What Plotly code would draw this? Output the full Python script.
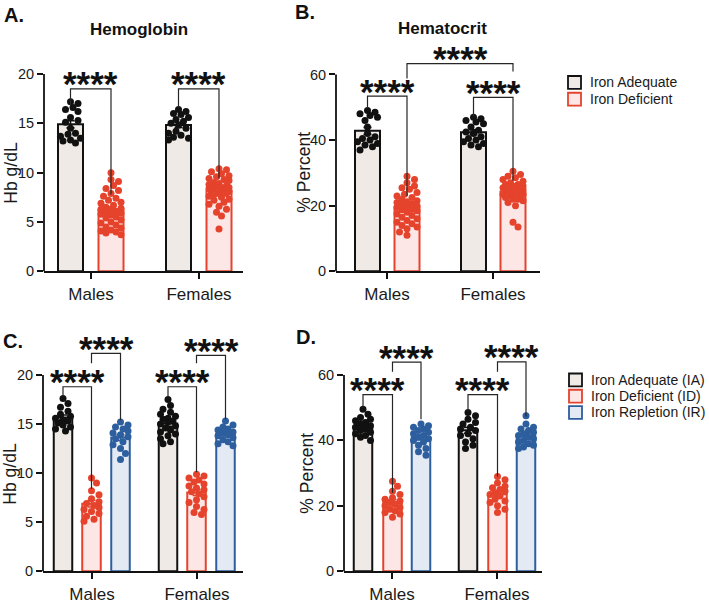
import numpy as np
import plotly.graph_objects as go

W, H = 709, 604

# ---------------- data ----------------
sexes = ["Males", "Females"]
groups_top = ["Iron Adequate", "Iron Deficient"]
groups_bot = ["Iron Adequate (IA)", "Iron Deficient (ID)", "Iron Repletion (IR)"]

# Panel A: Hemoglobin (g/dL)
hb1_ia_m = [17.2, 17.0, 16.6, 16.4, 16.2, 15.6, 15.3, 15.1, 14.5, 14.0, 13.9, 13.7, 13.5, 13.3, 13.2, 13.0]
hb1_id_m = [10.0, 9.3, 9.1, 8.7, 8.4, 8.2, 7.9, 7.6, 7.4, 7.2, 7.0, 6.9, 6.7, 6.5, 6.4, 6.2, 6.1, 6.0,
            5.8, 5.7, 5.5, 5.4, 5.2, 5.0, 4.9, 4.7, 4.5, 4.4, 4.2, 4.1, 4.0, 3.9, 3.7, 5.9, 6.3]
hb1_ia_f = [16.4, 16.2, 16.0, 15.9, 15.6, 15.4, 15.2, 15.0, 14.8, 14.5, 14.2, 14.0, 13.8, 13.6, 13.5, 13.3]
hb1_id_f = [10.4, 10.3, 10.1, 9.9, 9.7, 9.6, 9.4, 9.3, 9.2, 9.0, 8.9, 8.8, 8.7, 8.6, 8.5, 8.4, 8.3, 8.2,
            8.1, 8.0, 7.9, 7.8, 7.6, 7.5, 7.3, 7.2, 7.0, 6.8, 6.6, 6.3, 7.9, 5.6, 8.5, 6.0, 4.3]

# Panel B: Hematocrit (%)
hct1_ia_m = [49, 48.5, 48, 47.5, 47, 46, 44, 42, 41, 40.5, 40, 39.5, 39, 38.5, 38, 37]
hct1_id_m = [29, 28, 27, 26, 25.5, 25, 24, 23.5, 23, 22.5, 22, 21.5, 21, 20.5, 20, 19.5, 19, 18.5,
             18, 17.5, 17, 16.5, 16, 15.5, 15, 14.5, 14, 13.5, 13, 12, 11, 20.2, 19.8, 21.2, 18.8]
hct1_ia_f = [47, 46.5, 46, 45.5, 45, 44, 43, 42.5, 42, 41, 40.5, 40, 39.5, 39, 38.5, 38]
hct1_id_f = [30.5, 29.5, 29, 28.5, 28, 27.5, 27, 26.5, 26.5, 26, 26, 25.5, 25.5, 25, 25, 24.5, 24.5, 24,
             24, 23.5, 23, 23, 22.5, 22, 21.5, 24, 23.5, 23, 22, 21, 20, 15, 13.5, 25.8, 24.8]

# Panel C: Hemoglobin (g/dL) with repletion
hb2_ia_m = [17.6, 17.1, 16.7, 16.3, 16.0, 15.8, 15.6, 15.4, 15.3, 15.1, 14.9, 14.7, 14.5, 14.3]
hb2_id_m = [9.5, 9.0, 8.2, 7.8, 7.4, 7.1, 6.9, 6.7, 6.5, 6.3, 6.1, 5.9, 5.6, 5.3, 5.1]
hb2_ir_m = [15.2, 14.9, 14.7, 14.5, 14.3, 14.1, 13.9, 13.7, 13.5, 13.2, 12.9, 12.5, 12.0, 11.4]
hb2_ia_f = [17.5, 16.9, 16.5, 16.2, 16.0, 15.8, 15.6, 15.5, 15.3, 15.2, 15.0, 14.8, 14.6, 14.4,
            14.2, 14.0, 13.8, 13.5, 13.2, 13.0]
hb2_id_f = [9.9, 9.7, 9.5, 9.3, 9.1, 8.9, 8.7, 8.5, 8.3, 8.1, 7.9, 7.6, 7.3, 7.0, 6.6, 6.3, 6.0, 5.8]
hb2_ir_f = [15.3, 14.9, 14.7, 14.5, 14.4, 14.2, 14.1, 13.9, 13.8, 13.6, 13.4, 13.2, 13.0, 12.8]

# Panel D: Hematocrit (%) with repletion
hct2_ia_m = [49.5, 48, 47, 46.5, 46, 45.5, 45, 44.5, 44, 43.5, 43, 42.5, 42, 41.5, 41, 40]
hct2_id_m = [27.5, 26, 24.5, 23.5, 22.5, 22, 21.5, 21, 20.5, 20, 19.5, 19, 18.5, 18, 17.5, 16.5]
hct2_ir_m = [45, 44.5, 44, 43.5, 43, 42.5, 42, 41.5, 41, 40.5, 40, 39.5, 38.5, 37.5, 36.5, 35.5]
hct2_ia_f = [48.5, 47.5, 46.5, 45.5, 45, 44, 43.5, 43, 42, 41.5, 40.5, 39.5, 38.5, 37.5]
hct2_id_f = [29, 28, 27, 26, 25.5, 25, 24.5, 24, 23.5, 23, 22, 21.5, 21, 20, 19, 18]
hct2_ir_f = [47.5, 45, 44, 43.5, 43, 42.5, 42, 41.5, 41, 40.5, 40, 39.5, 39, 38.5, 38, 37.5]

y_ticks_hb = [0, 5, 10, 15, 20]
y_ticks_hct = [0, 20, 40, 60]
sig_label = "****"

# ---------------- styles ----------------
FONT = "Arial, 'Liberation Sans', Helvetica, sans-serif"
TXT = "#1a1a1a"
fills = ["#EFEAE5", "#FDE6E6", "#E3EAF4"]
lines = ["#111111", "#E5432C", "#2D5E9D"]

panels = [
    dict(letter="A.", title="Hemoglobin", ytitle="Hb g/dL", groups=groups_top,
         data=[[hb1_ia_m, hb1_ia_f], [hb1_id_m, hb1_id_f]], yticks=y_ticks_hb,
         left=44, right=243, bottom=275, ppu=10.0, ymax=25, male=91, female=199,
         offs=[-20.5, 20], bw=25,
         letter_xy=(2, 15), title_xy=(139, 30), ytitle_xy=(11, 175),
         brackets=[((0, 0), (0, 1), 18.5, 16.8, 7.8), ((1, 0), (1, 1), 18.5, 16.6, 9.4)]),
    dict(letter="B.", title="Hematocrit", ytitle="% Percent", groups=groups_top,
         data=[[hct1_ia_m, hct1_ia_f], [hct1_id_m, hct1_id_f]], yticks=y_ticks_hct,
         left=336, right=540, bottom=275, ppu=3.325, ymax=72, male=387, female=493,
         offs=[-19.5, 20], bw=25,
         letter_xy=(293, 12), title_xy=(442, 29), ytitle_xy=(304, 175),
         brackets=[((0, 0), (0, 1), 53.4, 49.7, 23.0), ((1, 0), (1, 1), 53.0, 47.3, 27.7),
                   ((0, 1), (1, 1), 63.3, 58.8, 60.9)]),
    dict(letter="C.", title=None, ytitle="Hb g/dL", groups=groups_bot,
         data=[[hb2_ia_m, hb2_ia_f], [hb2_id_m, hb2_id_f], [hb2_ir_m, hb2_ir_f]], yticks=y_ticks_hb,
         left=43, right=243, bottom=579, ppu=9.95, ymax=25.5, male=92, female=197,
         offs=[-29, -0.5, 28.5], bw=18.5,
         letter_xy=(1, 346), title_xy=None, ytitle_xy=(10, 480),
         brackets=[((0, 0), (0, 1), 18.8, 17.8, 8.4), ((0, 1), (0, 2), 22.2, 21.2, 15.4),
                   ((1, 0), (1, 1), 18.8, 17.8, 10.1), ((1, 1), (1, 2), 22.0, 21.2, 15.5)]),
    dict(letter="D.", title=None, ytitle="% Percent", groups=groups_bot,
         data=[[hct2_ia_m, hct2_ia_f], [hct2_id_m, hct2_id_f], [hct2_ir_m, hct2_ir_f]], yticks=y_ticks_hct,
         left=344, right=542, bottom=579, ppu=3.317, ymax=72, male=392, female=497,
         offs=[-29, 0.5, 29], bw=18.5,
         letter_xy=(294, 342), title_xy=None, ytitle_xy=(307, 480),
         brackets=[((0, 0), (0, 1), 54.0, 50.0, 24.0), ((0, 1), (0, 2), 63.9, 61.0, 46.5),
                   ((1, 0), (1, 1), 54.0, 49.0, 29.0), ((1, 1), (1, 2), 64.0, 61.0, 47.3)]),
]

legends = [
    dict(groups=groups_top, x=568, ys=[83.5, 100.5]),
    dict(groups=groups_bot, x=569, ys=[385, 401.5, 418]),
]


def px(x):
    return x / W


def py(y):
    return 1 - y / H


def swarm(vals, ppu_y, ppu_x, half_px, d=6.4):
    """Deterministic beeswarm-style horizontal placement (pixel based)."""
    vals = np.asarray(vals, float)
    order = np.argsort(-vals)
    step = 2.5
    cands = [0.0]
    k = 1
    while k * step <= half_px + 1e-9:
        cands += [k * step, -k * step]
        k += 1
    placed = []
    xs = np.zeros(len(vals))
    for i in order:
        yv = vals[i] * ppu_y
        best, bestscore = 0.0, -1
        for c in cands:
            mind = min([np.hypot(c - a, yv - b) for a, b in placed], default=1e9)
            if mind >= d:
                best = c
                break
            if mind > bestscore:
                bestscore, best = mind, c
        placed.append((best, yv))
        xs[i] = best / ppu_x
    return xs


fig = go.Figure()
annotations = []
shapes = []

for pi, p in enumerate(panels):
    n = pi + 1
    sfx = "" if n == 1 else str(n)
    xa, ya = f"x{sfx}", f"y{sfx}"
    span = p["female"] - p["male"]
    lo = (p["left"] - p["male"]) / span
    hi = (p["right"] - p["male"]) / span
    offs = [o / span for o in p["offs"]]
    bw = p["bw"] / span

    def pos(sex, g):
        return sex + offs[g]

    for g, gname in enumerate(p["groups"]):
        vals = p["data"][g]
        means = [float(np.mean(v)) for v in vals]
        sems = [float(np.std(v, ddof=1) / np.sqrt(len(v))) for v in vals]
        fig.add_trace(go.Bar(
            x=[pos(0, g), pos(1, g)], y=means, width=bw,
            marker=dict(color=fills[g], line=dict(color=lines[g], width=2)),
            error_y=dict(type="data", array=sems, color=lines[g], thickness=1.6, width=4),
            xaxis=xa, yaxis=ya, showlegend=False, name=gname, hoverinfo="skip"))
    for g, gname in enumerate(p["groups"]):
        for s in range(2):
            v = p["data"][g][s]
            jit = swarm(v, p["ppu"], span, p["bw"] / 2 - 1.5)
            fig.add_trace(go.Scatter(
                x=pos(s, g) + jit, y=v, mode="markers",
                marker=dict(color=lines[g], size=7, line=dict(width=0)),
                xaxis=xa, yaxis=ya, showlegend=False, hoverinfo="skip"))
    for (a, b, top, ba, bb) in p["brackets"]:
        x1, x2 = pos(*a), pos(*b)
        fig.add_trace(go.Scatter(
            x=[x1, x1, x2, x2], y=[ba, top, top, bb], mode="lines",
            line=dict(color="#262626", width=1.2), xaxis=xa, yaxis=ya,
            showlegend=False, hoverinfo="skip"))
        annotations.append(dict(
            x=(x1 + x2) / 2, y=top, xref=xa, yref=ya, text=f"<b>{sig_label}</b>", showarrow=False,
            xanchor="center", yanchor="middle", yshift=5,
            font=dict(family=FONT, size=35, color="#111111")))

    dom_x = [px(p["left"]), px(p["right"])]
    dom_y = [py(p["bottom"]), py(p["bottom"] - p["ymax"] * p["ppu"])]
    fig.layout[f"xaxis{sfx}"] = dict(
        domain=dom_x, range=[lo, hi], anchor=ya, tickvals=[0, 1], ticktext=sexes,
        showline=True, linecolor="#111111", linewidth=1.8, ticks="outside", ticklen=6,
        tickwidth=1.6, tickcolor="#111111", showgrid=False, zeroline=False,
        tickfont=dict(family=FONT, size=17, color=TXT), fixedrange=True)
    fig.layout[f"yaxis{sfx}"] = dict(
        domain=dom_y, range=[0, p["ymax"]], anchor=xa, tickvals=p["yticks"],
        showline=False, ticks="outside", ticklen=6, tickwidth=1.6, tickcolor="#111111",
        showgrid=False, zeroline=False, tickfont=dict(family=FONT, size=14.5, color=TXT),
        fixedrange=True)
    shapes.append(dict(type="line", xref=f"{xa} domain", yref=f"{ya} domain",
                       x0=0, x1=0, y0=0, y1=p["yticks"][-1] / p["ymax"],
                       line=dict(color="#111111", width=1.8)))

    annotations.append(dict(x=px(p["letter_xy"][0]), y=py(p["letter_xy"][1]), xref="paper", yref="paper",
                            text=f"<b>{p['letter']}</b>", showarrow=False, xanchor="left", yanchor="middle",
                            font=dict(family=FONT, size=20, color="#111111")))
    if p["title"]:
        annotations.append(dict(x=px(p["title_xy"][0]), y=py(p["title_xy"][1]), xref="paper", yref="paper",
                                text=f"<b>{p['title']}</b>", showarrow=False, xanchor="center",
                                yanchor="middle", font=dict(family=FONT, size=17, color="#111111")))
    annotations.append(dict(x=px(p["ytitle_xy"][0]), y=py(p["ytitle_xy"][1]), xref="paper", yref="paper",
                            text=p["ytitle"], showarrow=False, textangle=-90, xanchor="center",
                            yanchor="middle", font=dict(family=FONT, size=17.5, color=TXT)))

for lg in legends:
    for g, (name, yc) in enumerate(zip(lg["groups"], lg["ys"])):
        shapes.append(dict(type="rect", xref="paper", yref="paper",
                           x0=px(lg["x"]), x1=px(lg["x"] + 13), y0=py(yc + 6.5), y1=py(yc - 6.5),
                           fillcolor=fills[g], line=dict(color=lines[g], width=1.8)))
        annotations.append(dict(x=px(lg["x"] + 20), y=py(yc), xref="paper", yref="paper", text=name,
                                showarrow=False, xanchor="left", yanchor="middle",
                                font=dict(family=FONT, size=14, color=TXT)))

fig.update_layout(
    width=W, height=H, autosize=False, margin=dict(l=0, r=0, t=0, b=0, pad=0),
    paper_bgcolor="white", plot_bgcolor="rgba(0,0,0,0)", barmode="overlay",
    showlegend=False, annotations=annotations, shapes=shapes,
    font=dict(family=FONT, color=TXT))

fig.write_html("out.html")
